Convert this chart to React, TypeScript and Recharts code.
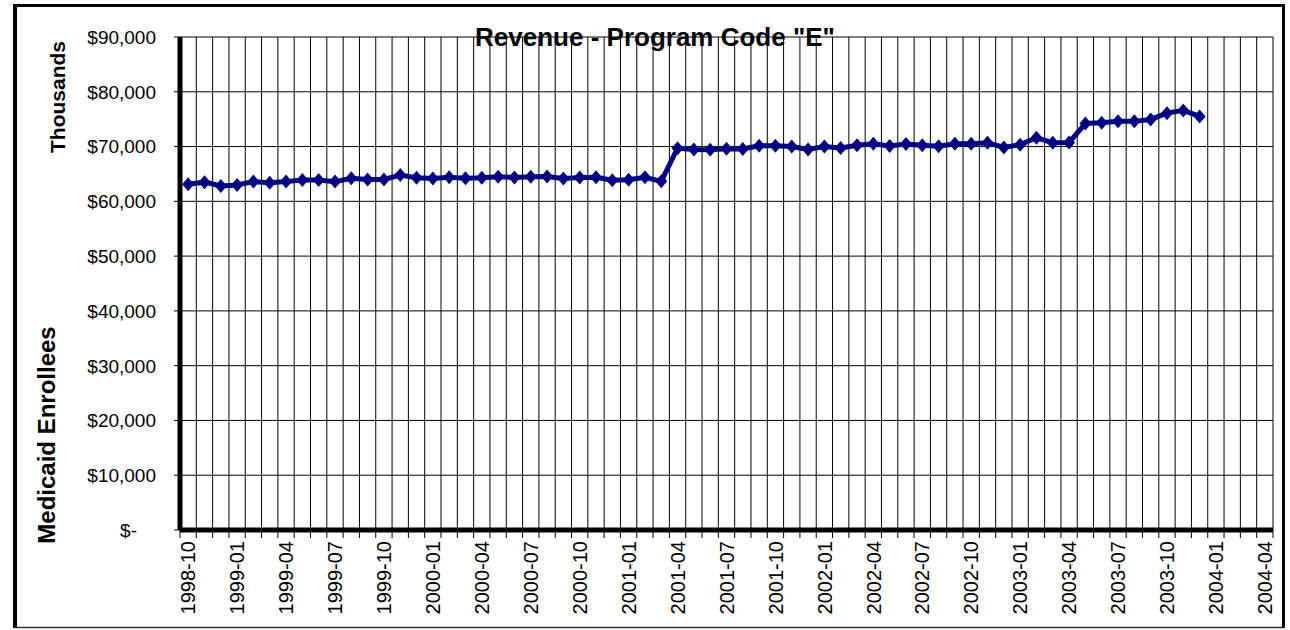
import { LineChart, Line, XAxis, YAxis, CartesianGrid } from 'recharts';

// monthly categories, Oct 1998 .. Apr 2004
const months = [
  '1998-10', '1998-11', '1998-12',
  '1999-01', '1999-02', '1999-03', '1999-04', '1999-05', '1999-06',
  '1999-07', '1999-08', '1999-09', '1999-10', '1999-11', '1999-12',
  '2000-01', '2000-02', '2000-03', '2000-04', '2000-05', '2000-06',
  '2000-07', '2000-08', '2000-09', '2000-10', '2000-11', '2000-12',
  '2001-01', '2001-02', '2001-03', '2001-04', '2001-05', '2001-06',
  '2001-07', '2001-08', '2001-09', '2001-10', '2001-11', '2001-12',
  '2002-01', '2002-02', '2002-03', '2002-04', '2002-05', '2002-06',
  '2002-07', '2002-08', '2002-09', '2002-10', '2002-11', '2002-12',
  '2003-01', '2003-02', '2003-03', '2003-04', '2003-05', '2003-06',
  '2003-07', '2003-08', '2003-09', '2003-10', '2003-11', '2003-12',
  '2004-01', '2004-02', '2004-03', '2004-04',
];

// revenue in $ thousands, 1998-10 .. 2003-12
const revenue = [
  63100, 63500, 62800, 63000, 63600, 63400, 63600, 63900, 63900, 63600,
  64200, 64000, 64000, 64800, 64300, 64150, 64400, 64200, 64300, 64500,
  64350, 64500, 64550, 64150, 64350, 64400, 63850, 63950, 64400, 63650,
  69700, 69450, 69400, 69600, 69550, 70150, 70150, 70000, 69450, 70000,
  69750, 70250, 70500, 70100, 70450, 70250, 70050, 70500, 70500, 70700,
  69850, 70350, 71600, 70700, 70750, 74200, 74350, 74600, 74600, 74950,
  76100, 76600, 75500,
];

const yTicks = [0, 10000, 20000, 30000, 40000, 50000, 60000, 70000, 80000, 90000];

const NAVY = '#000080';
const FONT = 'Arial, "Liberation Sans", Helvetica, sans-serif';

const rows = revenue.map((v, i) => ({ i, month: months[i], revenue: v }));
const domain: [number, number] = [-0.5, months.length - 0.5];
// month boundaries carry the grid lines and tick marks; every 3rd month gets a label
const edges = [...months.map((_, i) => i - 0.5), months.length - 0.5];
const labelled = months.map((_, i) => i).filter((i) => i % 3 === 0);
const bottomTicks = [...edges, ...labelled].sort((a, b) => a - b);

function MonthTick({ x, y, payload }: any) {
  const v = payload.value as number;
  if (!Number.isInteger(v)) {
    return <line x1={x} x2={x} y1={y} y2={y + 8} stroke="#000" strokeWidth={1} />;
  }
  const ty = y + 11;
  return (
    <text x={x} y={ty} transform={`rotate(-90, ${x}, ${ty})`} textAnchor="end" dy="0.36em"
      fontFamily={FONT} fontSize={20} fill="#000">
      {months[v]}
    </text>
  );
}

function DollarTick({ x, y, payload }: any) {
  const v = payload.value as number;
  const label = v === 0 ? '$-' : '$' + v.toLocaleString('en-US');
  return (
    <text x={v === 0 ? x - 19 : x} y={y} dy="0.36em" textAnchor="end"
      fontFamily={FONT} fontSize={19} fill="#000">
      {label}
    </text>
  );
}

function Diamond({ cx, cy }: any) {
  if (cx == null || cy == null) return null;
  return <polygon points={`${cx},${cy - 7} ${cx + 6},${cy} ${cx},${cy + 7} ${cx - 6},${cy}`} fill={NAVY} />;
}

// vertical grid at the month boundaries, placed from the plot offset
const edgeLines = ({ offset }: any) =>
  edges.map((e) => offset.left + ((e - domain[0]) / (domain[1] - domain[0])) * offset.width);

export default function App() {
  return (
    <div style={{ position: 'absolute', left: 0, top: 0, width: 1290, height: 630, background: '#fff' }}>
      <LineChart width={1290} height={630} data={rows} margin={{ top: 37, right: 17, bottom: 0, left: 0 }}>
        <CartesianGrid stroke="#000" strokeWidth={1} xAxisId="bottom" fill="#fff"
          verticalCoordinatesGenerator={edgeLines} />
        <XAxis xAxisId="grid" orientation="top" type="number" dataKey="i" domain={domain} ticks={edges}
          interval={0} height={0} tick={false} tickLine={false} axisLine={{ stroke: '#000', strokeWidth: 5 }} />
        <XAxis xAxisId="bottom" type="number" dataKey="i" domain={domain} ticks={bottomTicks}
          interval={0} height={100} tickSize={0} tickMargin={0} tickLine={false} tick={<MonthTick />}
          axisLine={{ stroke: '#000', strokeWidth: 5 }} />
        <YAxis domain={[0, 90000]} ticks={yTicks} interval={0} width={180} tickSize={6} tickMargin={18}
          tick={<DollarTick />} tickLine={{ stroke: '#000' }} axisLine={{ stroke: '#000', strokeWidth: 5 }} />
        <YAxis yAxisId="right" orientation="right" domain={[0, 90000]} width={0} tick={false} tickLine={false}
          axisLine={{ stroke: '#000', strokeWidth: 5 }} />
        <Line xAxisId="bottom" dataKey="revenue" stroke={NAVY} strokeWidth={5} dot={<Diamond />}
          activeDot={false} isAnimationActive={false} />
      </LineChart>
      <svg width={1290} height={630} style={{ position: 'absolute', left: 0, top: 0, pointerEvents: 'none' }}>
        <line x1={14} y1={5.5} x2={1284} y2={5.5} stroke="#000" strokeWidth={3} />
        <line x1={15} y1={4} x2={15} y2={628} stroke="#000" strokeWidth={4} />
        <line x1={1283.5} y1={4} x2={1283.5} y2={628} stroke="#000" strokeWidth={3} />
        <line x1={14} y1={627.5} x2={1285} y2={627.5} stroke="#333" strokeWidth={1.5} />
        <text x={655} y={46} textAnchor="middle" fontFamily={FONT} fontWeight="bold" fontSize={26} fill="#000">
          Revenue - Program Code "E"
        </text>
        <text x={57} y={97} transform="rotate(-90, 57, 97)" textAnchor="middle" dy="0.36em"
          fontFamily={FONT} fontWeight="bold" fontSize={21} fill="#000">
          Thousands
        </text>
        <text x={46} y={435} transform="rotate(-90, 46, 435)" textAnchor="middle" dy="0.36em"
          fontFamily={FONT} fontWeight="bold" fontSize={24} fill="#000">
          Medicaid Enrollees
        </text>
      </svg>
    </div>
  );
}
